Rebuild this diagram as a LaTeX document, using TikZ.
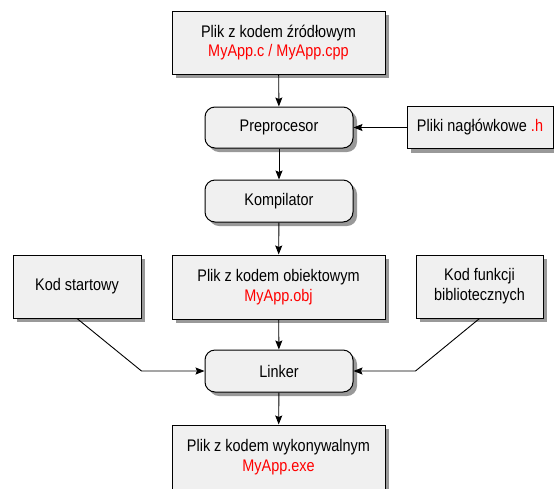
\documentclass[tikz,border=0pt]{standalone}
\usepackage{fontspec}
\setmainfont{Liberation Sans}[FakeStretch=0.86]
\usetikzlibrary{arrows.meta,shadows,calc}
\definecolor{boxfill}{RGB}{240,240,240}
\definecolor{fname}{RGB}{255,0,0}
\tikzset{
  every node/.style={font=\fontsize{16.8pt}{19.8pt}\selectfont},
  shadowed/.style={drop shadow={shadow xshift=4pt,shadow yshift=-4pt,fill=black!40,opacity=1}},
  filebox/.style={draw=black,line width=1pt,fill=boxfill,shadowed,align=center,inner sep=0pt},
  procbox/.style={filebox,rounded corners=10pt},
  conn/.style={line width=0.9pt,-{Stealth[length=9pt,width=7pt,inset=1.5pt]}}
}
\begin{document}
\begin{tikzpicture}[x=1pt,y=-1pt]
\useasboundingbox (0,0) rectangle (554,488);
\node[filebox,minimum width=213pt,minimum height=63pt] (src) at (278.5,42.5)
  {Plik z kodem źródłowym\\\textcolor{fname}{MyApp.c / MyApp.cpp}};
\node[procbox,minimum width=148pt,minimum height=41pt] (pre) at (279,127.5) {Preprocesor};
\node[filebox,minimum width=146pt,minimum height=42pt] (hdr) at (480,127.5)
  {Pliki nagłówkowe \textcolor{fname}{.h}};
\node[procbox,minimum width=148pt,minimum height=42pt] (komp) at (279,201) {Kompilator};
\node[filebox,minimum width=213pt,minimum height=64pt] (obj) at (278.5,287)
  {Plik z kodem obiektowym\\\textcolor{fname}{MyApp.obj}};
\node[filebox,minimum width=128pt,minimum height=63pt] (start) at (77,286.5) {Kod startowy};
\node[filebox,minimum width=127pt,minimum height=63pt] (lib) at (479.5,286.5)
  {Kod funkcji\\bibliotecznych};
\node[procbox,minimum width=148pt,minimum height=42pt] (link) at (279,371) {Linker};
\node[filebox,minimum width=213pt,minimum height=64pt] (exe) at (278.5,457)
  {Plik z kodem wykonywalnym\\\textcolor{fname}{MyApp.exe}};
\coordinate (cl) at (start.east |- link.west);
\coordinate (cr) at (lib.west |- link.east);
\draw[conn] (src) -- (pre);
\draw[conn] (hdr) -- (pre);
\draw[conn] (pre) -- (komp);
\draw[conn] (komp) -- (obj);
\draw[conn] (obj) -- (link);
\draw[conn] (start.south) -- (cl) -- (link.west);
\draw[conn] (lib.south) -- (cr) -- (link.east);
\draw[conn] (link) -- (exe);
\end{tikzpicture}
\end{document}
